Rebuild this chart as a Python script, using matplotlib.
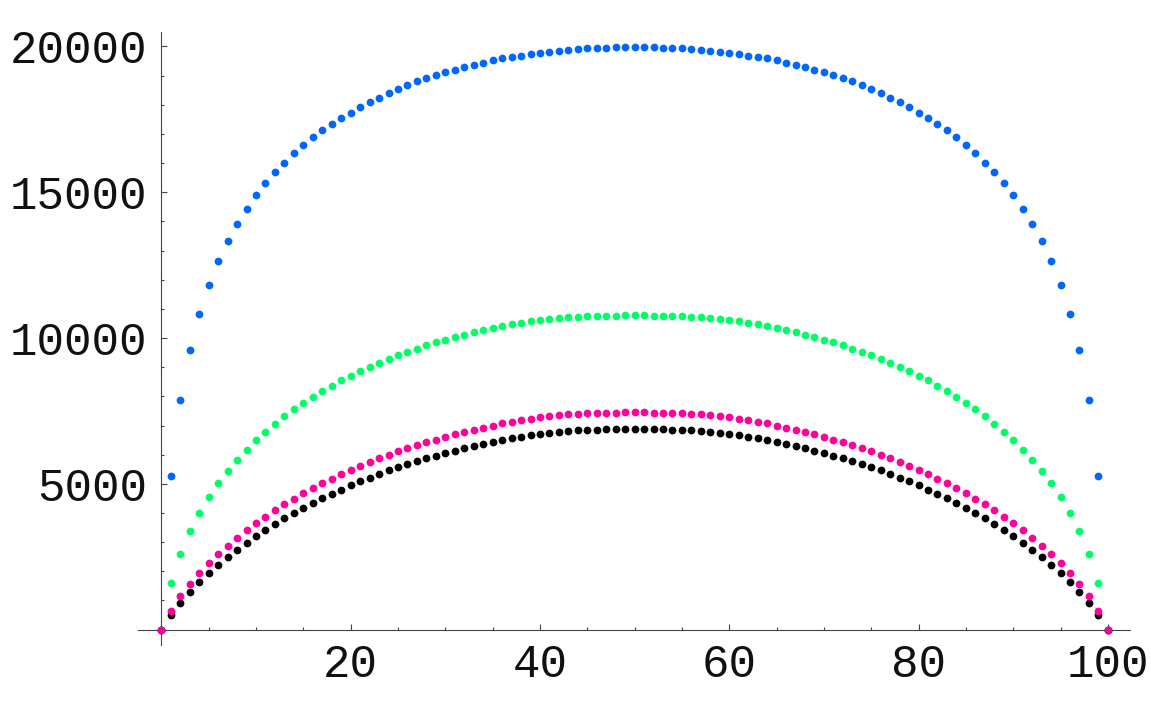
import numpy as np
import matplotlib
matplotlib.use("Agg")
import matplotlib.pyplot as plt
from matplotlib.ticker import MultipleLocator

# x positions 0..100
xs = list(range(101))

# values (left half rising, right half falling)
blue = [0, 5270, 7860, 9575, 10830, 11810, 12640, 13320, 13920, 14430,
        14900, 15310, 15680, 16020, 16330, 16610, 16880, 17120, 17330, 17550,
        17730, 17920, 18090, 18250, 18400, 18550, 18680, 18800, 18910, 19010,
        19120, 19210, 19300, 19380, 19450, 19520, 19590, 19640, 19690, 19730,
        19780, 19820, 19860, 19890, 19910, 19940, 19950, 19960, 19970, 19980,
        19990,
        19980, 19970, 19960, 19950, 19940, 19910, 19890, 19860, 19820, 19780,
        19730, 19690, 19640, 19590, 19520, 19450, 19380, 19300, 19210, 19120,
        19010, 18910, 18800, 18680, 18550, 18400, 18250, 18090, 17920, 17730,
        17550, 17330, 17120, 16880, 16610, 16330, 16020, 15680, 15310, 14900,
        14430, 13920, 13320, 12640, 11810, 10830, 9575, 7860, 5270, 0]

green = [0, 1610, 2600, 3380, 4010, 4550, 5030, 5450, 5820, 6170,
         6490, 6780, 7060, 7320, 7550, 7780, 7980, 8190, 8370, 8550,
         8700, 8870, 9010, 9150, 9290, 9410, 9530, 9640, 9750, 9850,
         9940, 10030, 10110, 10200, 10270, 10350, 10420, 10480, 10530, 10575,
         10615, 10650, 10680, 10705, 10725, 10740, 10755, 10765, 10772, 10777,
         10780,
         10777, 10772, 10765, 10755, 10740, 10725, 10705, 10680, 10650, 10615,
         10575, 10530, 10480, 10420, 10350, 10270, 10200, 10110, 10030, 9940,
         9850, 9750, 9640, 9530, 9410, 9290, 9150, 9010, 8870, 8700,
         8550, 8370, 8190, 7980, 7780, 7550, 7320, 7060, 6780, 6490,
         6170, 5820, 5450, 5030, 4550, 4010, 3380, 2600, 1610, 0]

black = [0, 500, 920, 1290, 1620, 1930, 2210, 2490, 2730, 2970,
         3200, 3410, 3620, 3820, 4000, 4170, 4340, 4500, 4650, 4800,
         4950, 5080, 5210, 5330, 5460, 5570, 5680, 5780, 5880, 5970,
         6060, 6140, 6220, 6300, 6370, 6440, 6510, 6570, 6620, 6670,
         6710, 6750, 6780, 6810, 6830, 6850, 6860, 6870, 6880, 6890,
         6890,
         6890, 6880, 6870, 6860, 6850, 6830, 6810, 6780, 6750, 6710,
         6670, 6620, 6570, 6510, 6440, 6370, 6300, 6220, 6140, 6060,
         5970, 5880, 5780, 5680, 5570, 5460, 5330, 5210, 5080, 4950,
         4800, 4650, 4500, 4340, 4170, 4000, 3820, 3620, 3410, 3200,
         2970, 2730, 2490, 2210, 1930, 1620, 1290, 920, 500, 0]

pink = [0, 650, 1140, 1550, 1930, 2270, 2580, 2880, 3150, 3400,
        3640, 3870, 4090, 4300, 4490, 4670, 4850, 5020, 5170, 5330,
        5480, 5620, 5760, 5880, 6000, 6120, 6240, 6340, 6430, 6520,
        6610, 6700, 6770, 6850, 6930, 7000, 7070, 7130, 7190, 7240,
        7280, 7320, 7360, 7380, 7400, 7420, 7430, 7440, 7445, 7450,
        7450,
        7450, 7445, 7440, 7430, 7420, 7400, 7380, 7360, 7320, 7280,
        7240, 7190, 7130, 7070, 7000, 6930, 6850, 6770, 6700, 6610,
        6520, 6430, 6340, 6240, 6120, 6000, 5880, 5760, 5620, 5480,
        5330, 5170, 5020, 4850, 4670, 4490, 4300, 4090, 3870, 3640,
        3400, 3150, 2880, 2580, 2270, 1930, 1550, 1140, 650, 0]

x_ticks = [20, 40, 60, 80, 100]
y_ticks = [5000, 10000, 15000, 20000]

W, H = 1151, 711
fig = plt.figure(figsize=(W / 100, H / 100), dpi=100)
# axes box in pixels: left 138, right 1130, top 32, bottom 645
ax = fig.add_axes([138 / W, 1 - 645 / H, (1130 - 138) / W, (645 - 32) / H])

ms = 5.6
for vals, col in [(blue, "#0066ff"), (green, "#00ff66"),
                  (black, "#000000"), (pink, "#ff0099")]:
    ax.plot(xs, vals, "o", color=col, ms=ms, mew=0, zorder=3, clip_on=False)

ax.set_xlim(-2.47, 102.34)
ax.set_ylim(-528, 20497)

for side in ["top", "right"]:
    ax.spines[side].set_visible(False)
ax.spines["left"].set_position(("data", 0))
ax.spines["bottom"].set_position(("data", 0))
for side in ["left", "bottom"]:
    ax.spines[side].set_color("#444444")
    ax.spines[side].set_linewidth(0.8)

ax.set_xticks(x_ticks)
ax.set_yticks(y_ticks)
ax.xaxis.set_minor_locator(MultipleLocator(5))
ax.yaxis.set_minor_locator(MultipleLocator(1000))

ax.tick_params(which="both", direction="in", color="#444444", width=0.8)
ax.tick_params(which="major", length=4.5)
ax.tick_params(which="minor", length=2.5)
ax.tick_params(axis="x", which="major", pad=10)
ax.tick_params(axis="y", which="major", pad=10)

for lab in ax.get_xticklabels() + ax.get_yticklabels():
    lab.set_fontfamily("Liberation Mono")
    lab.set_fontsize(33)
    lab.set_color("#111111")

fig.savefig("out.png", dpi=100)
